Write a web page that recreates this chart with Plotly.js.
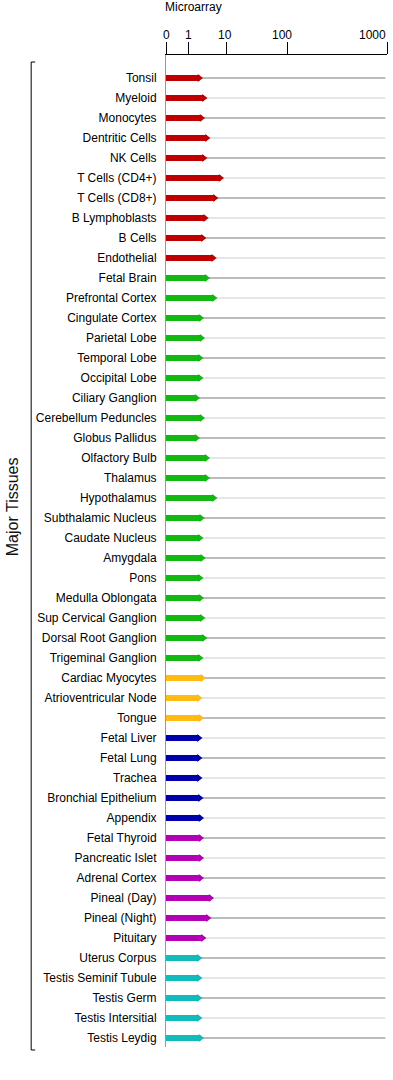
<!DOCTYPE html>
<html>
<head>
<meta charset="utf-8">
<script src="https://cdn.plot.ly/plotly-3.0.1.min.js"></script>
<style>html,body{margin:0;padding:0;background:#fff;}#chart{width:393px;height:1080px;}</style>
</head>
<body>
<div id="chart"></div>
<script>
const categories = [
  "Tonsil","Myeloid","Monocytes","Dentritic Cells","NK Cells","T Cells (CD4+)","T Cells (CD8+)","B Lymphoblasts","B Cells","Endothelial",
  "Fetal Brain","Prefrontal Cortex","Cingulate Cortex","Parietal Lobe","Temporal Lobe","Occipital Lobe","Ciliary Ganglion","Cerebellum Peduncles","Globus Pallidus","Olfactory Bulb",
  "Thalamus","Hypothalamus","Subthalamic Nucleus","Caudate Nucleus","Amygdala","Pons","Medulla Oblongata","Sup Cervical Ganglion","Dorsal Root Ganglion","Trigeminal Ganglion",
  "Cardiac Myocytes","Atrioventricular Node","Tongue",
  "Fetal Liver","Fetal Lung","Trachea","Bronchial Epithelium","Appendix",
  "Fetal Thyroid","Pancreatic Islet","Adrenal Cortex","Pineal (Day)","Pineal (Night)","Pituitary",
  "Uterus Corpus","Testis Seminif Tubule","Testis Germ","Testis Intersitial","Testis Leydig"
];
const values = [
  1.91,2.50,2.16,3.00,2.50,6.90,4.90,2.70,2.35,4.41,
  2.93,4.60,2.03,2.16,1.96,1.96,1.59,2.16,1.59,2.93,
  2.93,4.60,2.12,1.96,2.25,1.96,2.03,2.21,2.50,1.96,
  2.30,1.84,2.03,
  1.84,1.84,1.84,1.96,2.03,
  2.03,2.03,2.03,3.74,3.19,2.35,
  1.84,1.84,1.84,1.84,2.03
];
const groups = [
  "Immune","Immune","Immune","Immune","Immune","Immune","Immune","Immune","Immune","Immune",
  "Nervous","Nervous","Nervous","Nervous","Nervous","Nervous","Nervous","Nervous","Nervous","Nervous",
  "Nervous","Nervous","Nervous","Nervous","Nervous","Nervous","Nervous","Nervous","Nervous","Nervous",
  "Muscle","Muscle","Muscle",
  "Endoderm","Endoderm","Endoderm","Endoderm","Endoderm",
  "Endocrine","Endocrine","Endocrine","Endocrine","Endocrine","Endocrine",
  "Reproductive","Reproductive","Reproductive","Reproductive","Reproductive"
];
const tickValues = [0, 1, 10, 100, 1000];
const tickLabels = ["0", "1", "10", "100", "1000"];

// styles
const groupColors = {
  Immune: "#c00000", Nervous: "#11b811", Muscle: "#ffbb11",
  Endoderm: "#0000aa", Endocrine: "#b400b4", Reproductive: "#11bbbb"
};
// axis geometry of the original's custom scale (axis units)
const knotPos = [0, 23, 60.7, 121.3, 221.3];
function tx(v) {
  if (v <= 1) return v * knotPos[1];
  for (let i = 1; i < tickValues.length - 1; i++) {
    if (v <= tickValues[i + 1] || i === tickValues.length - 2) {
      const f = (Math.log10(v) - Math.log10(tickValues[i])) /
                (Math.log10(tickValues[i + 1]) - Math.log10(tickValues[i]));
      return knotPos[i] + f * (knotPos[i + 1] - knotPos[i]);
    }
  }
}
const xMax = tx(tickValues[tickValues.length - 1]);
const lineEnd = xMax * 0.993;

const traces = [];
// row guide lines
const dark = {x: [], y: []}, light = {x: [], y: []};
categories.forEach((c, i) => {
  const t = i % 2 === 0 ? dark : light;
  t.x.push(0, lineEnd, null);
  t.y.push(c, c, null);
});
traces.push({type: "scatter", mode: "lines", x: dark.x, y: dark.y, line: {color: "#7a7a7a", width: 1}, hoverinfo: "skip", showlegend: false});
traces.push({type: "scatter", mode: "lines", x: light.x, y: light.y, line: {color: "#cccccc", width: 1}, hoverinfo: "skip", showlegend: false});

// thick bars, one trace per group
const groupNames = [...new Set(groups)];
groupNames.forEach(g => {
  const x = [], y = [];
  categories.forEach((c, i) => {
    if (groups[i] === g) { x.push(0, tx(values[i]), null); y.push(c, c, null); }
  });
  traces.push({type: "scatter", mode: "lines", x, y, line: {color: groupColors[g], width: 6}, showlegend: false});
});
// arrow heads
const colors = groups.map(g => groupColors[g]);
traces.push({type: "scatter", mode: "markers", x: values.map(tx), y: categories,
  marker: {symbol: "triangle-right", size: 7, color: colors, line: {width: 0}}, showlegend: false});

const PT = 55, PB = 1047, PL = 166, PR = 387.3;
const pH = PB - PT, pW = PR - PL;
const px2x = p => (p - PL) / pW;
const py2y = p => (PB - p) / pH;

const annotations = tickValues.map((v, i) => ({
  xref: "x", yref: "paper", x: tx(v), y: 1, yshift: 20,
  text: tickLabels[i], showarrow: false, borderpad: 0,
  xanchor: i === tickValues.length - 1 ? "right" : "center",
  xshift: i === 3 ? -5 : (i === 2 ? -1.5 : 0),
  yanchor: "middle", font: {size: 12, color: "#000"}
}));
annotations.push({
  xref: "paper", yref: "paper", x: px2x(12), y: py2y(507),
  text: "Major Tissues", textangle: -90, showarrow: false,
  xanchor: "center", yanchor: "middle", font: {size: 16, color: "#111"}
});

const layout = {
  width: 393, height: 1080,
  margin: {l: PL, r: 393 - PR, t: PT, b: 1080 - PB, pad: 0},
  paper_bgcolor: "#fff", plot_bgcolor: "#fff",
  font: {family: "Liberation Sans, Arial, sans-serif", size: 12, color: "#000"},
  title: {text: "Microarray", x: 165 / 393, xanchor: "left", xref: "container",
          y: 1 - 7 / 1080, yanchor: "middle", yref: "container", font: {size: 12, color: "#000"}},
  showlegend: false,
  xaxis: {side: "top", range: [0, xMax], showline: true, linecolor: "#000", linewidth: 1,
          ticks: "outside", ticklen: 12, tickcolor: "#000", tickwidth: 1,
          tickmode: "array", tickvals: tickValues.map(tx), showticklabels: false,
          showgrid: false, zeroline: false, fixedrange: true},
  yaxis: {type: "category", categoryorder: "array", categoryarray: categories,
          range: [categories.length - 0.55, -1.15], showline: true, linecolor: "#999", linewidth: 1,
          ticks: "outside", ticklen: 6, tickcolor: "rgba(0,0,0,0)",
          tickfont: {size: 12, color: "#000"}, showgrid: false, zeroline: false, fixedrange: true},
  shapes: [{
    type: "path", xref: "paper", yref: "paper",
    path: `M ${px2x(35)} ${py2y(62)} L ${px2x(31)} ${py2y(62)} L ${px2x(31)} ${py2y(1050)} L ${px2x(35)} ${py2y(1050)}`,
    line: {color: "#000", width: 1}
  }],
  annotations: annotations
};

Plotly.newPlot("chart", traces, layout, {displayModeBar: false, staticPlot: true});
</script>
</body>
</html>
